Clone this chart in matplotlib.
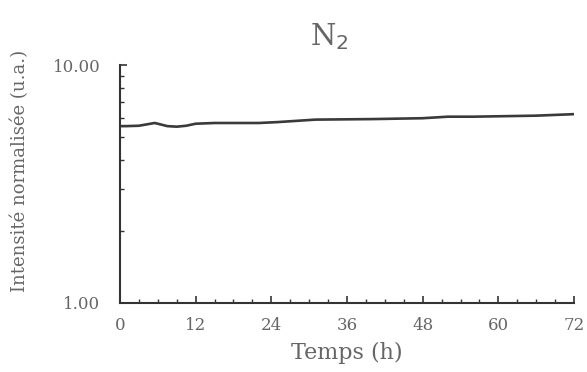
import matplotlib.pyplot as plt
from matplotlib.ticker import FixedLocator, MultipleLocator, NullFormatter, FuncFormatter

# Time (h) and normalized intensity
hours = [0, 1, 3, 5.5, 6, 7.5, 9, 10.5, 12, 15, 22, 25, 31, 40, 48, 52, 56, 66, 72]
intensity = [5.54, 5.54, 5.56, 5.71, 5.67, 5.54, 5.51, 5.56, 5.67, 5.71, 5.71,
             5.76, 5.90, 5.93, 5.98, 6.07, 6.07, 6.13, 6.22]
x_ticks = [0, 12, 24, 36, 48, 60, 72]
y_ticks = [1, 10]

plt.rcParams['font.family'] = ['DejaVu Serif']
text_color = '#666666'
axis_color = '#333333'

fig = plt.figure(figsize=(5.87, 3.72), dpi=100)
ax = fig.add_axes([0.2044, 0.1855, 0.7735, 0.6395])

ax.plot(hours, intensity, color='#3a3a3a', linewidth=1.9)

ax.set_yscale('log')
ax.set_xlim(0, 72)
ax.set_ylim(1, 10)
ax.xaxis.set_major_locator(FixedLocator(x_ticks))
ax.xaxis.set_minor_locator(MultipleLocator(3))
ax.yaxis.set_major_locator(FixedLocator(y_ticks))
ax.yaxis.set_minor_locator(FixedLocator(range(2, 10)))
ax.yaxis.set_major_formatter(FuncFormatter(lambda v, p: f'{v:.2f}'))
ax.yaxis.set_minor_formatter(NullFormatter())

for side in ['top', 'right']:
    ax.spines[side].set_visible(False)
for side in ['left', 'bottom']:
    ax.spines[side].set_color(axis_color)
    ax.spines[side].set_linewidth(1.5)

ax.tick_params(which='major', direction='in', length=5, width=1.2, color=axis_color,
               labelsize=12, labelcolor=text_color)
ax.tick_params(which='minor', direction='in', length=3, width=1, color=axis_color)
ax.tick_params(axis='x', which='major', pad=10)
ax.tick_params(axis='y', which='major', pad=14)

ax.set_xlabel('Temps (h)', fontsize=16, color=text_color, labelpad=6)
ax.set_ylabel('Intensité normalisée (u.a.)', fontsize=13, color=text_color,
              labelpad=17, y=0.555)
ax.set_title('N$_2$', fontsize=21, color=text_color, pad=14, x=0.46)

fig.savefig('out.png', dpi=100)
